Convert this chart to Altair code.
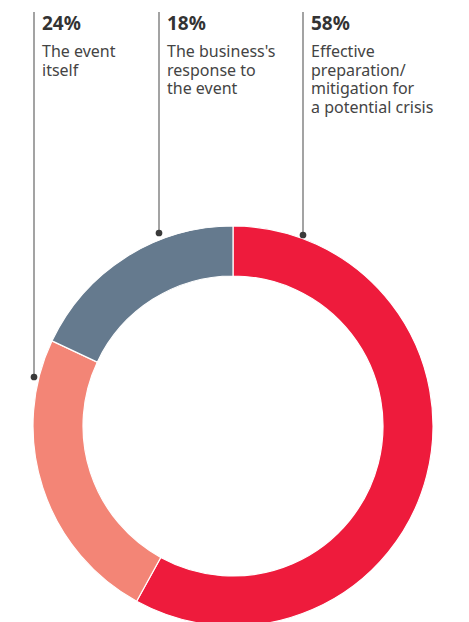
import altair as alt
import pandas as pd

# ---- data ----
categories = [
    "Effective preparation/mitigation for a potential crisis",
    "The event itself",
    "The business's response to the event",
]
values = [58, 24, 18]
pct_labels = ["58%", "24%", "18%"]
label_lines = [
    ["Effective", "preparation/", "mitigation for", "a potential crisis"],
    ["The event", "itself"],
    ["The business's", "response to", "the event"],
]
colors = ["#EE1B3C", "#F38576", "#657A8E"]

# ---- layout (pixels inside the plot area) ----
CX, CY = 225, 418
R_OUT, R_IN = 200, 150
line_x = [295, 26, 151]
dot_y = [227, 369, 225]
LINE_TOP = 4
TEXT_DX = 8
PCT_Y = 22
BODY_Y = 49
LINE_H = 18.5

arc_df = pd.DataFrame({"cat": categories, "value": values, "order": [0, 1, 2]})
lab_df = pd.DataFrame({
    "cat": categories,
    "pct": pct_labels,
    "lx": line_x,
    "tx": [x + TEXT_DX for x in line_x],
    "ytop": [LINE_TOP] * 3,
    "ydot": dot_y,
    "ypct": [PCT_Y] * 3,
})
rows = []
for i, lines in enumerate(label_lines):
    for j, t in enumerate(lines):
        rows.append({"txt": t, "tx": line_x[i] + TEXT_DX, "ty": BODY_Y + j * LINE_H})
body_df = pd.DataFrame(rows)

arcs = alt.Chart(arc_df).mark_arc(
    outerRadius=R_OUT, innerRadius=R_IN, stroke="white", strokeWidth=1.2
).encode(
    theta=alt.Theta("value:Q", stack=True),
    order=alt.Order("order:Q"),
    color=alt.Color("cat:N", scale=alt.Scale(domain=categories, range=colors), legend=None),
    x=alt.value(CX),
    y=alt.value(CY),
)

base = alt.Chart(lab_df)
rules = base.mark_rule(color="#666666", strokeWidth=1.2).encode(
    x=alt.X("lx:Q", scale=None, axis=None),
    y=alt.Y("ytop:Q", scale=None, axis=None),
    y2="ydot:Q",
)
dots = base.mark_point(filled=True, size=45, color="#3a3a3a", opacity=1).encode(
    x=alt.X("lx:Q", scale=None, axis=None),
    y=alt.Y("ydot:Q", scale=None, axis=None),
)
pct = base.mark_text(
    align="left", baseline="alphabetic", font="Noto Sans", fontSize=19,
    fontWeight="bold", color="#333333"
).encode(
    x=alt.X("tx:Q", scale=None, axis=None),
    y=alt.Y("ypct:Q", scale=None, axis=None),
    text="pct:N",
)
body = alt.Chart(body_df).mark_text(
    align="left", baseline="alphabetic", font="Noto Sans", fontSize=16,
    color="#444444"
).encode(
    x=alt.X("tx:Q", scale=None, axis=None),
    y=alt.Y("ty:Q", scale=None, axis=None),
    text="txt:N",
)

chart = alt.layer(arcs, rules, dots, pct, body).properties(
    width=453, height=614,
    autosize=alt.AutoSizeParams(type="none"),
    padding=0,
).configure_view(stroke=None)

chart.save("out.html", embed_options={"renderer": "svg", "actions": False})
